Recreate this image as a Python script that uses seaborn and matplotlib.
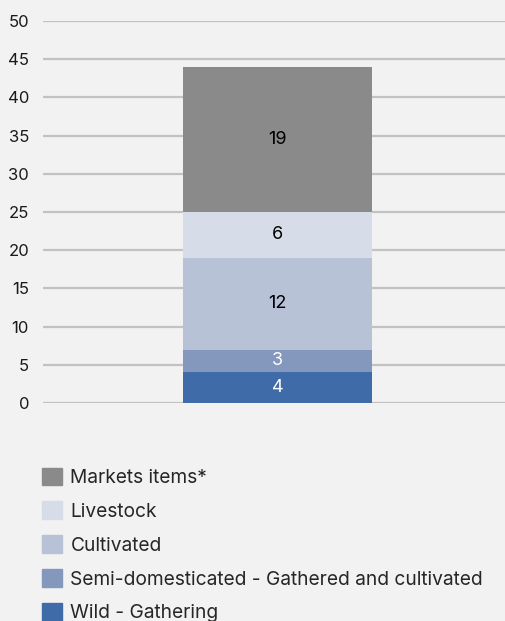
import matplotlib
matplotlib.use("Agg")
import matplotlib.pyplot as plt
import matplotlib.patches as mpatches
import seaborn as sns

# data, bottom to top
categories = ["Wild - Gathering", "Semi-domesticated - Gathered and cultivated",
              "Cultivated", "Livestock", "Markets items*"]
values = [4, 3, 12, 6, 19]
colors = ["#3f6ba8", "#8497bd", "#b7c2d6", "#d6dce8", "#8a8a8a"]
label_colors = ["white", "white", "black", "black", "black"]
yticks = [0, 5, 10, 15, 20, 25, 30, 35, 40, 45, 50]

sns.set_style("white")
plt.rcParams["font.family"] = ["Inter", "DejaVu Sans"]

fig = plt.figure(figsize=(5.06, 6.21), dpi=100, facecolor="#f2f2f2")
ax = fig.add_axes([43 / 506, 1 - 403 / 621, 463 / 506, 382 / 621])
ax.set_facecolor("#f2f2f2")

bottom = 0
for cat, val, col, tc in zip(categories, values, colors, label_colors):
    sns.barplot(x=["total"], y=[val], bottom=bottom, color=col, width=0.8,
                saturation=1, ax=ax, zorder=3, linewidth=0)
    ax.text(0, bottom + val / 2, str(val), ha="center", va="center",
            color=tc, fontsize=13, zorder=4)
    bottom += val

ax.set_ylim(0, 50)
ax.set_xlim(-0.993, 0.967)
ax.set_yticks(yticks)
ax.set_yticklabels([str(t) for t in yticks], fontsize=12, color="#1a1a1a")
ax.set_xticks([])
ax.set_xlabel("")
ax.set_ylabel("")
ax.grid(axis="y", color="#c2c2c2", linewidth=1.6, zorder=0)
ax.tick_params(axis="y", length=0, pad=10)
for s in ax.spines.values():
    s.set_visible(False)

handles = [mpatches.Patch(color=c, label=l) for l, c in zip(categories, colors)][::-1]
fig.legend(handles=handles, loc="upper left", bbox_to_anchor=(34 / 506, 1 - 460 / 621),
           frameon=False, fontsize=13.8, handlelength=1.05, handleheight=1.05,
           handletextpad=0.45, labelspacing=0.75, borderaxespad=0)

fig.savefig("out.png", dpi=100, facecolor=fig.get_facecolor())
